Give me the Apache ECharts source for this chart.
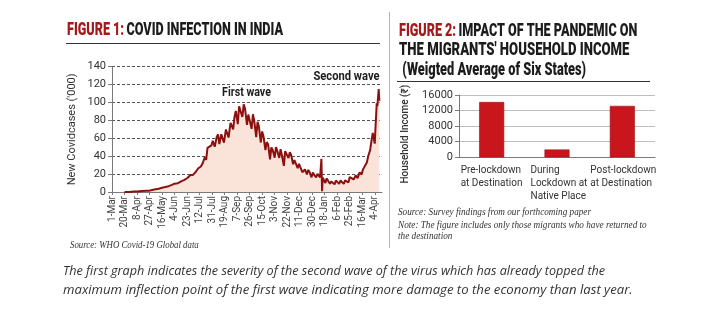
<!DOCTYPE html>
<html>
<head>
<meta charset="utf-8">
<script src="https://cdn.jsdelivr.net/npm/echarts@6/dist/echarts.min.js"></script>
<style>
  html, body { margin: 0; padding: 0; background: #ffffff; }
  #chart { width: 701px; height: 325px; }
</style>
</head>
<body>
<div id="chart"></div>
<script>
// Figure 1: new COVID-19 cases in India, thousands per day
const caseDates = [
  '2020-03-20','2020-03-27','2020-04-03','2020-04-08','2020-04-15','2020-04-22','2020-04-27',
  '2020-05-01','2020-05-06','2020-05-11','2020-05-16','2020-05-21','2020-05-26','2020-05-31',
  '2020-06-04','2020-06-09','2020-06-14','2020-06-19','2020-06-24','2020-06-28',
  '2020-07-02','2020-07-06','2020-07-10','2020-07-14','2020-07-17','2020-07-20','2020-07-22',
  '2020-07-24','2020-07-27','2020-07-30','2020-08-01','2020-08-04','2020-08-07','2020-08-09',
  '2020-08-11','2020-08-14','2020-08-16','2020-08-18','2020-08-21','2020-08-23','2020-08-25',
  '2020-08-28','2020-08-30','2020-09-01','2020-09-03','2020-09-05','2020-09-08','2020-09-10',
  '2020-09-12','2020-09-15','2020-09-17','2020-09-19','2020-09-22','2020-09-24','2020-09-26',
  '2020-09-29','2020-10-01','2020-10-03','2020-10-06','2020-10-08','2020-10-10','2020-10-13',
  '2020-10-15','2020-10-17','2020-10-20','2020-10-22','2020-10-24','2020-10-27','2020-10-29',
  '2020-10-31','2020-11-03','2020-11-05','2020-11-07','2020-11-10','2020-11-12','2020-11-14',
  '2020-11-17','2020-11-19','2020-11-21','2020-11-24','2020-11-26','2020-11-28','2020-12-01',
  '2020-12-03','2020-12-05','2020-12-08','2020-12-10','2020-12-12','2020-12-15','2020-12-17',
  '2020-12-19','2020-12-22','2020-12-24','2020-12-26','2020-12-29','2020-12-31','2021-01-02',
  '2021-01-05','2021-01-07','2021-01-09','2021-01-11','2021-01-13','2021-01-14','2021-01-15',
  '2021-01-17','2021-01-19','2021-01-21','2021-01-23','2021-01-26','2021-01-28','2021-01-30',
  '2021-02-02','2021-02-04','2021-02-06','2021-02-09','2021-02-11','2021-02-13','2021-02-16',
  '2021-02-18','2021-02-20','2021-02-23','2021-02-25','2021-02-27','2021-03-03','2021-03-06',
  '2021-03-09','2021-03-12','2021-03-15','2021-03-17','2021-03-20','2021-03-23','2021-03-25',
  '2021-03-28','2021-03-30','2021-04-01','2021-04-02','2021-04-04','2021-04-05','2021-04-07',
  '2021-04-08','2021-04-10','2021-04-11'
];
const newCases = [
  0.05, 0.1, 0.5, 0.6, 1.0, 1.4, 1.5,
  2.3, 3.0, 3.6, 4.8, 5.6, 6.5, 7.9,
  9.3, 9.9, 11.9, 13.6, 15.9, 19.0,
  19.1, 22.3, 26.5, 28.5, 32.7, 38.9, 36.0,
  49.3, 47.7, 52.1, 57.1, 50.6, 61.5, 64.4,
  53.6, 64.5, 63.5, 55.1, 69.9, 69.2, 60.9,
  77.3, 78.8, 69.9, 83.9, 90.6, 75.8, 95.7,
  94.4, 83.8, 97.9, 93.3, 75.1, 86.5, 85.4,
  70.6, 86.8, 79.5, 61.3, 78.5, 73.3, 55.3,
  67.7, 62.2, 46.8, 55.8, 53.4, 36.5, 49.9,
  46.9, 38.3, 50.2, 45.7, 38.1, 47.9, 41.1,
  29.2, 45.6, 46.2, 37.9, 44.5, 41.3, 31.1,
  35.6, 36.6, 26.6, 31.5, 30.0, 22.1, 24.0,
  25.2, 19.6, 24.7, 22.2, 16.4, 21.8, 19.1,
  16.4, 20.3, 18.6, 16.3, 37.0, 1.0, 16.0,
  15.1, 10.1, 15.2, 14.3, 9.1, 11.7, 13.1,
  8.6, 12.9, 11.7, 9.1, 12.9, 12.1, 9.1,
  12.9, 13.9, 10.6, 16.7, 16.5, 14.0, 18.5,
  15.5, 22.0, 19.5, 25.0, 26.5, 33.0, 40.0,
  47.0, 57.0, 66.0, 62.0, 54.0, 70.0, 99.0,
  96.0, 115.0, 102.0
];
// Date ticks every 19 days from 1 March 2020
const dayTickLabels = [
  '1-Mar','20-Mar','8-Apr','27-Apr','16-May','4-Jun','23-Jun','12-Jul','31-Jul','19-Aug','7-Sep',
  '26-Sep','15-Oct','3-Nov','22-Nov','11-Dec','30-Dec','18-Jan','6-Feb','25-Feb','16-Mar','4-Apr'
];

// Figure 2: household income of migrants (weighted average of six states)
const incomeCategories = ['Pre-lockdown\nat Destination', 'During\nLockdown at\nNative Place', 'Post-lockdown\nat Destination'];
const incomeValues = [14200, 2000, 13200];

const DAY_MS = 86400000;
const ORIGIN = Date.UTC(2020, 2, 1);
function dayIndex(s) {
  const p = s.split('-').map(Number);
  return Math.round((Date.UTC(p[0], p[1] - 1, p[2]) - ORIGIN) / DAY_MS);
}
const caseSeries = caseDates.map((d, i) => [dayIndex(d), newCases[i]]);

const INK = '#1c1c1c';
const RED_HEAD = '#a3191c';
const AXIS = '#7a7a7a';

function headText(x, y, text, scaleX) {
  return {
    type: 'text', x: x, y: y, scaleX: scaleX, silent: true,
    style: {
      text: text, align: 'left', textAlign: 'left', verticalAlign: 'middle', textVerticalAlign: 'middle',
      rich: {
        r: { fontFamily: 'Roboto', fontWeight: 900, fontSize: 18, fill: RED_HEAD, color: RED_HEAD },
        b: { fontFamily: 'Roboto', fontWeight: 900, fontSize: 18, fill: INK, color: INK }
      }
    }
  };
}
function plainText(x, y, text, font, opts) {
  return Object.assign({
    type: 'text', x: x, y: y, silent: true,
    style: Object.assign({ text: text, font: font, fill: '#333333', align: 'left', textAlign: 'left', verticalAlign: 'middle', textVerticalAlign: 'middle' }, (opts && opts.style) || {})
  }, (opts && opts.el) || {});
}

const labelFont = { fontFamily: 'Roboto', fontSize: 10, color: '#333', lineHeight: 13 };

const chart = echarts.init(document.getElementById('chart'), null, { renderer: 'canvas' });
chart.setOption({
  animation: false,
  backgroundColor: '#ffffff',
  grid: [
    { left: 112, top: 66.7, width: 270, height: 125.3 },
    { left: 459, top: 95, width: 196, height: 62.3 }
  ],
  xAxis: [
    {
      gridIndex: 0, type: 'value', min: 0, max: 410, interval: 19,
      axisLine: { lineStyle: { color: AXIS } },
      axisTick: { length: 3, lineStyle: { color: AXIS } },
      splitLine: { show: false },
      axisLabel: {
        rotate: 90, fontFamily: 'Roboto', fontSize: 10, color: '#444', margin: 4,
        showMaxLabel: false,
        formatter: v => (v % 19 === 0 ? dayTickLabels[v / 19] : '')
      }
    },
    {
      gridIndex: 1, type: 'category', data: incomeCategories,
      axisLine: { lineStyle: { color: AXIS } },
      axisTick: { show: false },
      axisLabel: Object.assign({
        interval: 0, margin: 7,
        formatter: (v, i) => v.split('\n').map(l => '{c' + i + '|' + l + '}').join('\n'),
        rich: {
          c0: Object.assign({ width: 62, align: 'left' }, labelFont),
          c1: Object.assign({ width: 53, align: 'left' }, labelFont),
          c2: Object.assign({ width: 64, align: 'left' }, labelFont)
        }
      }, labelFont)
    }
  ],
  yAxis: [
    {
      gridIndex: 0, type: 'value', min: 0, max: 140, interval: 20,
      name: "New Covidcases ('000)", nameLocation: 'middle', nameGap: 34,
      nameTextStyle: { fontFamily: 'Roboto', fontSize: 11, color: '#333' },
      axisLine: { show: true, lineStyle: { color: AXIS } },
      axisTick: { show: true, length: 4, lineStyle: { color: AXIS } },
      axisLabel: { fontFamily: 'Roboto', fontSize: 11, color: '#333', margin: 6 },
      splitLine: { lineStyle: { type: [3, 2], color: '#555', width: 1 } }
    },
    {
      gridIndex: 1, type: 'value', min: 0, max: 16000, interval: 4000,
      name: 'Household Income (₹)', nameLocation: 'middle', nameGap: 49,
      nameTextStyle: { fontFamily: 'Roboto', fontWeight: 500, fontSize: 10, color: '#333', padding: [0, 16, 0, 0] },
      axisLine: { show: true, lineStyle: { color: AXIS } },
      axisTick: { show: true, length: 4, lineStyle: { color: AXIS } },
      axisLabel: { fontFamily: 'Roboto', fontSize: 11, color: '#333', margin: 6, formatter: v => String(v) },
      splitLine: { lineStyle: { color: '#bdbdbd', width: 1 } }
    }
  ],
  series: [
    {
      type: 'line', xAxisIndex: 0, yAxisIndex: 0, data: caseSeries,
      showSymbol: false, symbol: 'none',
      lineStyle: { color: '#8c1010', width: 2 },
      areaStyle: { color: '#fae3d9', opacity: 1 },
      z: 3
    },
    {
      type: 'bar', xAxisIndex: 1, yAxisIndex: 1, data: incomeValues, barWidth: 25,
      itemStyle: { color: '#c9161c', borderColor: '#9d1014', borderWidth: 0.6 }
    }
  ],
  graphic: [
    headText(67, 30, '{r|FIGURE 1:} {b|COVID INFECTION IN INDIA}', 0.7),
    { type: 'line', silent: true, shape: { x1: 66, y1: 43.5, x2: 380, y2: 43.5 }, style: { stroke: '#333', lineWidth: 1 } },
    { type: 'line', silent: true, shape: { x1: 389.5, y1: 12, x2: 389.5, y2: 248 }, style: { stroke: '#b5b5b5', lineWidth: 1 } },
    headText(399, 31, '{r|FIGURE 2:} {b|IMPACT OF THE PANDEMIC ON}', 0.7),
    headText(399, 50.5, '{b|THE MIGRANTS\' HOUSEHOLD INCOME}', 0.73),
    headText(399, 70, '{b| (Weigted Average of Six States)}', 0.71),
    { type: 'line', silent: true, shape: { x1: 397, y1: 81.5, x2: 650, y2: 81.5 }, style: { stroke: '#333', lineWidth: 1 } },
    plainText(246.5, 93, 'First wave', 'bold 13px Roboto', { style: { fill: INK, align: 'center', textAlign: 'center' }, el: { scaleX: 0.82 } }),
    plainText(346.5, 77, 'Second wave', 'bold 13px Roboto', { style: { fill: INK, align: 'center', textAlign: 'center' }, el: { scaleX: 0.86 } }),
    plainText(70, 245, 'Source: WHO Covid-19 Global data', 'italic 10px "Liberation Serif"', { el: { scaleX: 0.88 } }),
    plainText(398, 212, 'Source: Survey findings from our forthcoming paper', 'italic 10px "Liberation Serif"', { el: { scaleX: 0.92 } }),
    plainText(398, 225.5, 'Note: The figure includes only those migrants who have returned to', 'italic 10px "Liberation Serif"', { el: { scaleX: 0.92 } }),
    plainText(398, 236.5, 'the destination', 'italic 10px "Liberation Serif"', { el: { scaleX: 0.92 } }),
    plainText(63, 271, 'The first graph indicates the severity of the second wave of the virus which has already topped the', 'italic 12.8px "Open Sans"', { el: { scaleX: 0.985 } }),
    plainText(63, 290, 'maximum inflection point of the first wave indicating more damage to the economy than last year.', 'italic 12.8px "Open Sans"', { el: { scaleX: 1.027 } })
  ]
});
</script>
</body>
</html>
